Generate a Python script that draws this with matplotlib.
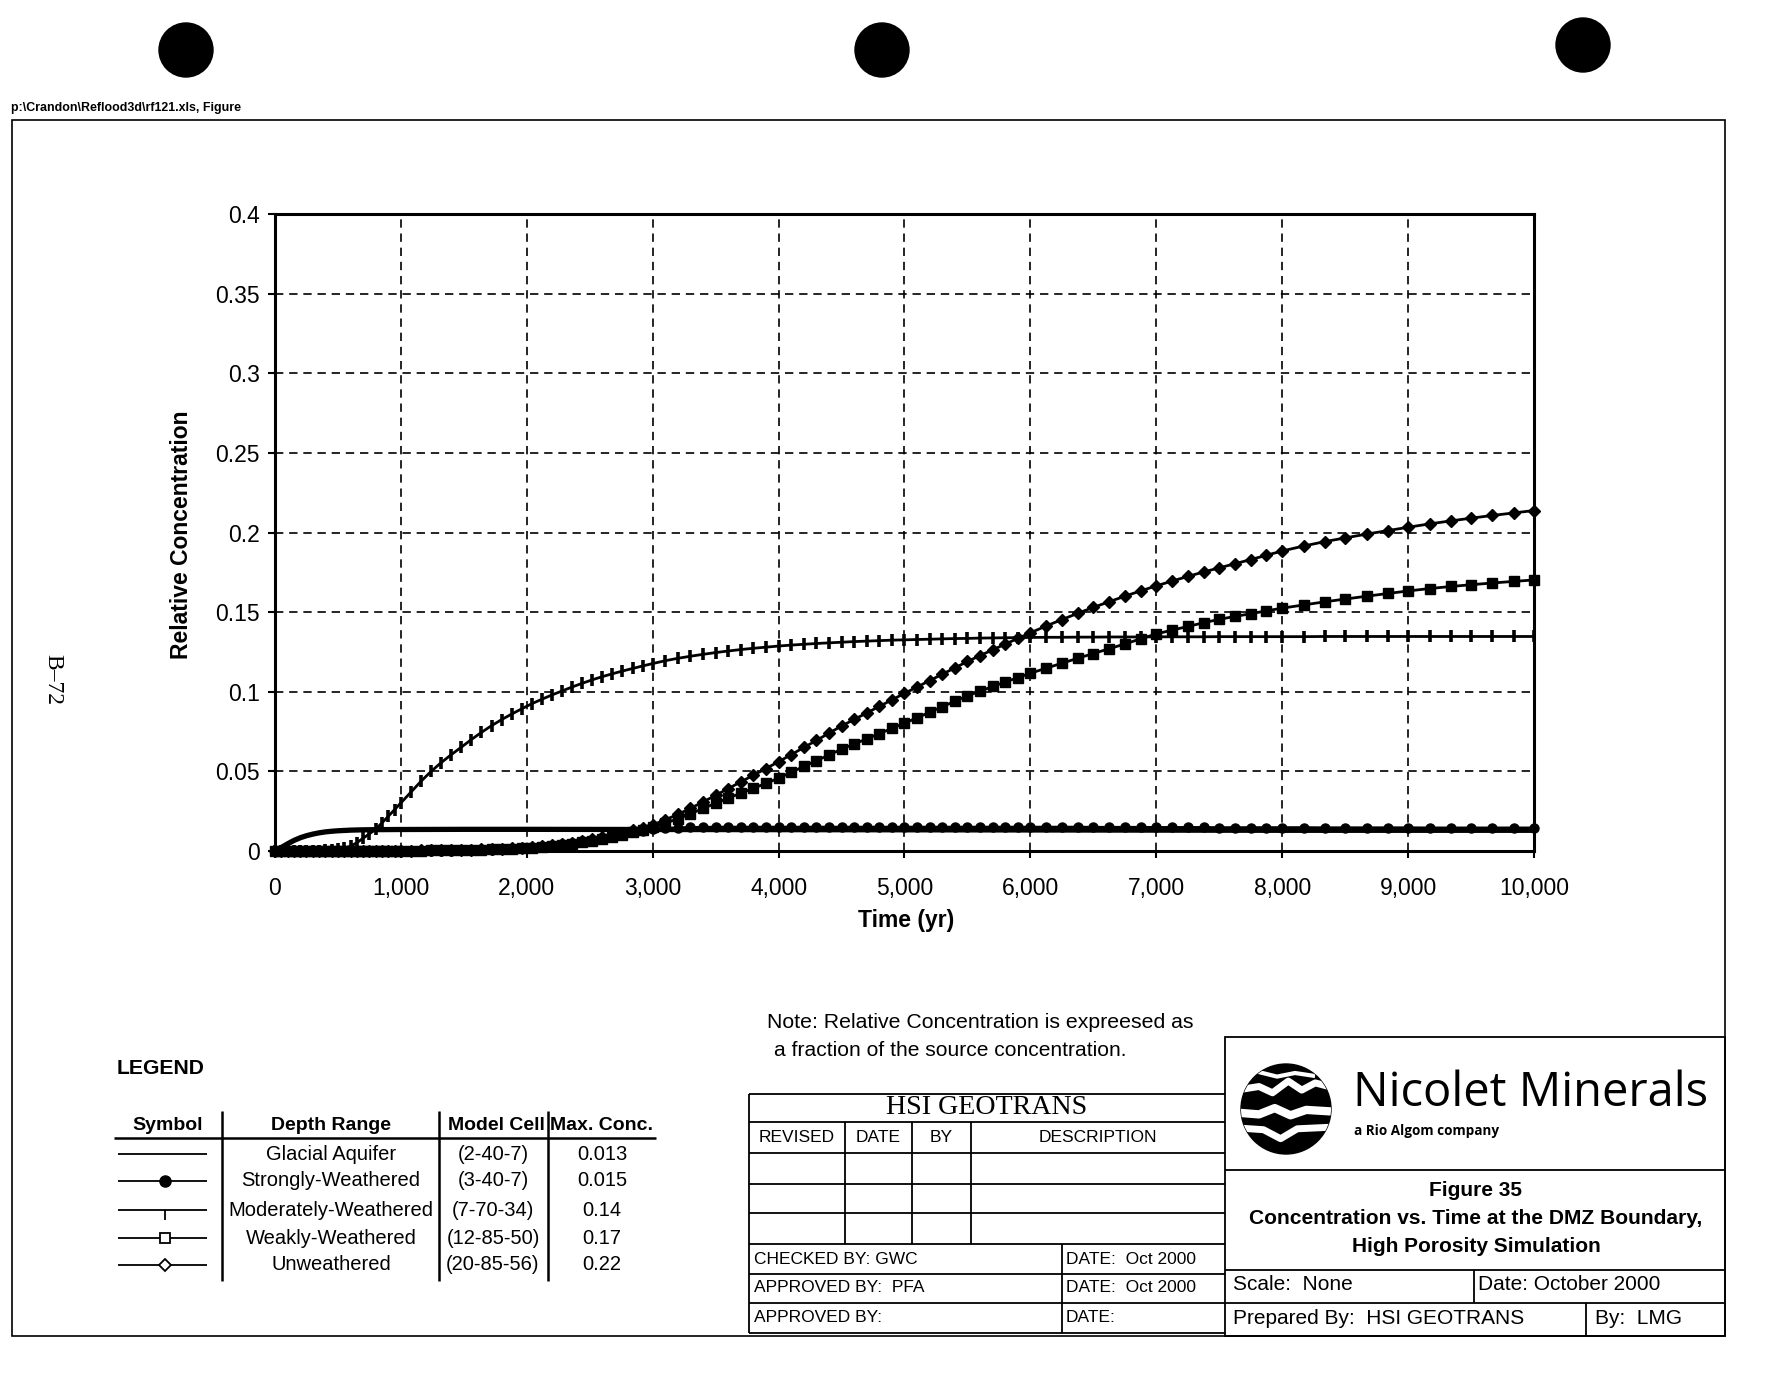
import matplotlib.pyplot as plt
from matplotlib.patches import Circle, Rectangle
from matplotlib.ticker import FuncFormatter, MultipleLocator

plt.rcParams['font.family'] = ['Liberation Sans', 'DejaVu Sans']

# output times of the transport model (yr)
time = [0, 50, 100, 150, 200, 250, 300, 350, 400, 450, 500, 550, 600, 650, 700, 750, 800, 850, 900, 950, 1000,
        1080, 1160, 1240, 1320, 1400, 1480, 1560, 1640, 1720, 1800, 1880, 1960, 2040, 2120, 2200, 2280, 2360,
        2440, 2520, 2600, 2680, 2760, 2840, 2920, 3000,
        3100, 3200, 3300, 3400, 3500, 3600, 3700, 3800, 3900, 4000, 4100, 4200, 4300, 4400, 4500, 4600, 4700,
        4800, 4900, 5000, 5100, 5200, 5300, 5400, 5500, 5600, 5700, 5800, 5900, 6000,
        6125, 6250, 6375, 6500, 6625, 6750, 6875, 7000, 7125, 7250, 7375, 7500, 7625, 7750, 7875, 8000,
        8170, 8340, 8500, 8670, 8840, 9000, 9170, 9340, 9500, 9670, 9840, 10000]

strongly = [0, 0, 0, 0, 0, 0, 0, 0, 0, 0, 0, 0, 0, 0, 0, 0, 0, 0, 0, 0, 0.0001,
            0.0001, 0.0001, 0.0002, 0.0002, 0.0003, 0.0004, 0.0005, 0.0006, 0.0008, 0.0010, 0.0013, 0.0016,
            0.0021, 0.0026, 0.0033, 0.0041, 0.0050, 0.0060, 0.0071, 0.0083, 0.0095, 0.0107, 0.0118, 0.0128, 0.0136,
            0.0142, 0.0146, 0.0148, 0.0149, 0.0150, 0.0150, 0.0150, 0.0150, 0.0150, 0.0150, 0.0150, 0.0150,
            0.0150, 0.0150, 0.0150, 0.0150, 0.0150, 0.0150, 0.0150, 0.0150, 0.0150, 0.0150, 0.0150, 0.0150,
            0.0150, 0.0150, 0.0150, 0.0150, 0.0150, 0.0150,
            0.0150, 0.0150, 0.0150, 0.0149, 0.0149, 0.0149, 0.0149, 0.0148, 0.0148, 0.0148, 0.0148, 0.0147,
            0.0147, 0.0147, 0.0147, 0.0147,
            0.0147, 0.0146, 0.0146, 0.0146, 0.0146, 0.0146, 0.0145, 0.0145, 0.0145, 0.0145, 0.0145, 0.0145]

moderately = [0, 0, 0, 0, 0, 0.0001, 0.0001, 0.0002, 0.0004, 0.0006, 0.0010, 0.0018, 0.0030, 0.0052, 0.0080,
              0.0108, 0.0137, 0.0177, 0.0218, 0.0260, 0.0302,
              0.0370, 0.0438, 0.0500, 0.0555, 0.0605, 0.0652, 0.0700, 0.0745, 0.0787, 0.0825, 0.0860, 0.0893,
              0.0925, 0.0953, 0.0980, 0.1005, 0.1030, 0.1053, 0.1075, 0.1095, 0.1113, 0.1130, 0.1146, 0.1162, 0.1177,
              0.1195, 0.1210, 0.1223, 0.1235, 0.1246, 0.1256, 0.1265, 0.1273, 0.1280, 0.1287, 0.1293, 0.1298,
              0.1303, 0.1307, 0.1311, 0.1315, 0.1318, 0.1321, 0.1324, 0.1326, 0.1328, 0.1330, 0.1332, 0.1334,
              0.1335, 0.1337, 0.1338, 0.1339, 0.1340, 0.1341,
              0.1342, 0.1342, 0.1343, 0.1343, 0.1344, 0.1344, 0.1344, 0.1345, 0.1345, 0.1345, 0.1345, 0.1346,
              0.1346, 0.1346, 0.1346, 0.1346,
              0.1346, 0.1347, 0.1347, 0.1347, 0.1347, 0.1347, 0.1347, 0.1347, 0.1347, 0.1347, 0.1347, 0.1347]

weakly = [0, 0, 0, 0, 0, 0, 0, 0, 0, 0, 0, 0, 0, 0.0001, 0.0001, 0.0001, 0.0001, 0.0001, 0.0002, 0.0002, 0.0002,
          0.0003, 0.0003, 0.0004, 0.0005, 0.0005, 0.0006, 0.0007, 0.0008, 0.0010, 0.0012, 0.0014, 0.0017,
          0.0020, 0.0025, 0.0030, 0.0037, 0.0045, 0.0054, 0.0064, 0.0076, 0.0089, 0.0103, 0.0118, 0.0134, 0.0150,
          0.0175, 0.0202, 0.0234, 0.0267, 0.0300, 0.0332, 0.0363, 0.0394, 0.0425, 0.0457, 0.0494, 0.0531,
          0.0567, 0.0603, 0.0639, 0.0672, 0.0704, 0.0737, 0.0770, 0.0802, 0.0837, 0.0871, 0.0906, 0.0940,
          0.0974, 0.1004, 0.1033, 0.1061, 0.1089, 0.1116,
          0.1148, 0.1179, 0.1210, 0.1240, 0.1270, 0.1300, 0.1332, 0.1363, 0.1387, 0.1410, 0.1433, 0.1455,
          0.1473, 0.1490, 0.1508, 0.1525,
          0.1545, 0.1565, 0.1582, 0.1600, 0.1617, 0.1633, 0.1648, 0.1661, 0.1672, 0.1683, 0.1693, 0.1702]

unweathered = [0, 0, 0, 0, 0, 0, 0, 0, 0, 0, 0, 0, 0, 0.0001, 0.0001, 0.0001, 0.0001, 0.0002, 0.0002, 0.0002, 0.0003,
               0.0003, 0.0004, 0.0005, 0.0005, 0.0006, 0.0007, 0.0008, 0.0010, 0.0012, 0.0014, 0.0017, 0.0020,
               0.0024, 0.0029, 0.0035, 0.0043, 0.0052, 0.0062, 0.0073, 0.0086, 0.0100, 0.0114, 0.0129, 0.0145, 0.0163,
               0.0196, 0.0230, 0.0268, 0.0308, 0.0350, 0.0392, 0.0434, 0.0476, 0.0518, 0.0561, 0.0605, 0.0650,
               0.0694, 0.0740, 0.0785, 0.0826, 0.0867, 0.0908, 0.0949, 0.0990, 0.1030, 0.1070, 0.1110, 0.1150,
               0.1190, 0.1227, 0.1263, 0.1299, 0.1335, 0.1370,
               0.1413, 0.1453, 0.1492, 0.1530, 0.1565, 0.1600, 0.1633, 0.1665, 0.1695, 0.1724, 0.1752, 0.1778,
               0.1804, 0.1830, 0.1857, 0.1884,
               0.1915, 0.1943, 0.1966, 0.1990, 0.2012, 0.2033, 0.2054, 0.2073, 0.2090, 0.2107, 0.2123, 0.2138]

glacial_time = [0, 50, 100, 150, 200, 250, 300, 350, 400, 450, 500, 600, 700, 800, 1000, 1500, 2000,
                3000, 4000, 5000, 6000, 7000, 8000, 9000, 10000]
glacial = [0, 0.0022, 0.0045, 0.0066, 0.0083, 0.0096, 0.0106, 0.0114, 0.0120, 0.0124, 0.0127, 0.0131,
           0.0133, 0.0134, 0.0135, 0.0136, 0.0136, 0.0135, 0.0134, 0.0133, 0.0132, 0.0131, 0.0130, 0.0130, 0.0130]

depth_range = ['Glacial Aquifer', 'Strongly-Weathered', 'Moderately-Weathered', 'Weakly-Weathered', 'Unweathered']
model_cell = ['(2-40-7)', '(3-40-7)', '(7-70-34)', '(12-85-50)', '(20-85-56)']
max_conc = ['0.013', '0.015', '0.14', '0.17', '0.22']

W, H = 1783, 1380
fig = plt.figure(figsize=(W / 100, H / 100), dpi=100)
fig.patch.set_facecolor('white')

# page axes in pixel units, y downwards
page = fig.add_axes([0, 0, 1, 1])
page.set_xlim(0, W)
page.set_ylim(H, 0)
page.axis('off')

renderer = fig.canvas.get_renderer()


def fit(x, y, s, width, **kw):
    t = page.text(x, y, s, **kw)
    w = t.get_window_extent(renderer).width
    t.set_fontsize(t.get_fontsize() * width / w)
    return t


def seg(x0, y0, x1, y1, lw=1.3):
    page.plot([x0, x1], [y0, y1], color='k', lw=lw, solid_capstyle='butt')


# punch holes and file name
for cx, cy in [(186, 50), (882, 50), (1583, 45)]:
    page.add_patch(Circle((cx, cy), 27, color='k'))
fit(11, 108, r'p:\Crandon\Reflood3d\rf121.xls, Figure', 229, fontsize=9, va='center', fontweight='bold')

# sheet border
page.add_patch(Rectangle((12, 120), 1725 - 12, 1336 - 120, fill=False, lw=1.2, ec='k'))
page.text(53, 679, 'B\u201372', rotation=-90, ha='center', va='center', fontsize=17,
          family=['Liberation Serif', 'DejaVu Serif'])

# main chart
ax = fig.add_axes([275 / W, 1 - 851 / H, (1534 - 275) / W, (851 - 214) / H])
ax.plot(glacial_time, glacial, color='k', lw=3.8, clip_on=False, zorder=3)
ax.plot(time, strongly, color='k', lw=2, marker='o', ms=6.5, clip_on=False, zorder=4)
ax.plot(time, moderately, color='k', lw=2, marker='|', ms=9, mew=2.6, clip_on=False, zorder=4)
ax.plot(time, weakly, color='k', lw=2, marker='s', ms=6.5, clip_on=False, zorder=4)
ax.plot(time, unweathered, color='k', lw=2, marker='D', ms=6, clip_on=False, zorder=4)

ax.set_xlim(0, 10000)
ax.set_ylim(0, 0.4)
ax.xaxis.set_major_locator(MultipleLocator(1000))
ax.yaxis.set_major_locator(MultipleLocator(0.05))
ax.xaxis.set_major_formatter(FuncFormatter(lambda v, p: f'{int(v):,}'))
ax.yaxis.set_major_formatter(FuncFormatter(lambda v, p: f'{v:g}'))
ax.grid(True, color='k', lw=1.2, linestyle=(0, (5, 3.5)))
ax.tick_params(axis='both', direction='out', length=5, width=1.5, labelsize=16.5, color='k')
ax.tick_params(axis='y', pad=6)
ax.tick_params(axis='x', pad=14)
for sp in ax.spines.values():
    sp.set_linewidth(2.2)
page.text(906, 920, 'Time (yr)', ha='center', va='center', fontsize=16.5, fontweight='bold')
page.text(182, 535, 'Relative Concentration', ha='center', va='center', rotation=90,
          fontsize=16.5, fontweight='bold')

# note
fit(767, 1023, 'Note: Relative Concentration is expreesed as', 427, fontsize=15, va='center')
fit(774, 1051, 'a fraction of the source concentration.', 353, fontsize=15, va='center')

# legend table
fit(117, 1069, 'LEGEND', 88, fontsize=15, va='center', fontweight='bold')
hdr_y = 1126
for x, s in [(168, 'Symbol'), (331, 'Depth Range'), (496, 'Model Cell'), (602, 'Max. Conc.')]:
    page.text(x, hdr_y, s, ha='center', va='center', fontsize=14, fontweight='bold')
seg(114, 1138, 656, 1138, lw=1.8)
for x in [222, 439, 548]:
    seg(x, 1111, x, 1281, lw=1.8)
row_y = [1154, 1181, 1210, 1238, 1265]
symbols = [dict(marker=None), dict(marker='o', ms=8, mfc='k'), dict(marker=3, ms=7, mew=1.3),
           dict(marker='s', ms=7, mfc='white', mew=1.3), dict(marker='D', ms=6, mfc='white', mew=1.3)]
for y, sym, d, m, c in zip(row_y, symbols, depth_range, model_cell, max_conc):
    seg(118, y, 207, y, lw=1.3)
    if sym['marker'] is not None:
        page.plot([165], [y], color='k', linestyle='none', **sym)
    page.text(331, y, d, ha='center', va='center', fontsize=14.5)
    page.text(493, y, m, ha='center', va='center', fontsize=14.5)
    page.text(602, y, c, ha='center', va='center', fontsize=14.5)

# HSI GEOTRANS revision block
L, R = 749, 1225
rows = [1094, 1122, 1153, 1184, 1213, 1244, 1274, 1303, 1333]
for y in rows:
    seg(L, y, R, y, lw=1.3)
seg(L, rows[0], L, rows[-1], lw=1.3)
for x in [845, 912, 971]:
    seg(x, rows[1], x, rows[5], lw=1.3)
seg(1062, rows[5], 1062, rows[-1], lw=1.3)
fit(987, 1108, 'HSI GEOTRANS', 201, ha='center', va='center', fontsize=20,
    family=['Liberation Serif', 'DejaVu Serif'])
for x, s in [(797, 'REVISED'), (878, 'DATE'), (941, 'BY'), (1098, 'DESCRIPTION')]:
    page.text(x, 1137, s, ha='center', va='center', fontsize=12.5)
for y, a, b in [(1259, 'CHECKED BY: GWC', 'DATE:  Oct 2000'),
                (1288, 'APPROVED BY:  PFA', 'DATE:  Oct 2000'),
                (1318, 'APPROVED BY:', 'DATE:')]:
    page.text(754, y, a, va='center', fontsize=12.5)
    page.text(1066, y, b, va='center', fontsize=12.5)

# Nicolet title block
page.add_patch(Rectangle((1225, 1037), 1725 - 1225, 1336 - 1037, fill=False, lw=1.3, ec='k'))
seg(1225, 1170, 1725, 1170)
seg(1225, 1270, 1725, 1270)
seg(1225, 1303, 1725, 1303)
seg(1474, 1270, 1474, 1303)
seg(1586, 1303, 1586, 1336)

logo = Circle((1286, 1109), 45, color='k')
page.add_patch(logo)
stripes = [
    ([-1.1, -0.6, -0.3, 0.05, 0.35, 0.65, 1.1], [-0.42, -0.5, -0.36, -0.62, -0.42, -0.58, -0.46], 5),
    ([-1.1, -0.6, -0.25, 0.1, 0.45, 1.1], [0.08, 0.12, -0.02, 0.14, 0.02, 0.06], 6),
    ([-1.1, -0.5, -0.12, 0.25, 1.1], [0.42, 0.46, 0.66, 0.44, 0.40], 5),
    ([-0.6, -0.2, 0.2, 0.6], [-0.82, -0.72, -0.8, -0.74], 3),
]
for xs, ys, lw in stripes:
    ln, = page.plot([1286 + 45 * v for v in xs], [1109 + 45 * v for v in ys], color='white', lw=lw)
    ln.set_clip_path(logo)
fit(1353, 1093, 'Nicolet Minerals', 356, va='center', fontsize=32, family=['Open Sans', 'DejaVu Sans'])
fit(1354, 1131, 'a Rio Algom company', 145, va='center', fontsize=9, fontweight='bold',
    family=['Open Sans', 'DejaVu Sans'])
fit(1476, 1190, 'Figure 35', 93, ha='center', va='center', fontsize=15, fontweight='bold')
fit(1476, 1218, 'Concentration vs. Time at the DMZ Boundary,', 456, ha='center', va='center',
    fontsize=15, fontweight='bold')
fit(1476, 1246, 'High Porosity Simulation', 250, ha='center', va='center', fontsize=15, fontweight='bold')
page.text(1233, 1285, 'Scale:  None', va='center', fontsize=15)
page.text(1478, 1285, 'Date: October 2000', va='center', fontsize=15)
page.text(1233, 1318, 'Prepared By:  HSI GEOTRANS', va='center', fontsize=15)
page.text(1595, 1318, 'By:  LMG', va='center', fontsize=15)

fig.savefig('out.png', dpi=100)
